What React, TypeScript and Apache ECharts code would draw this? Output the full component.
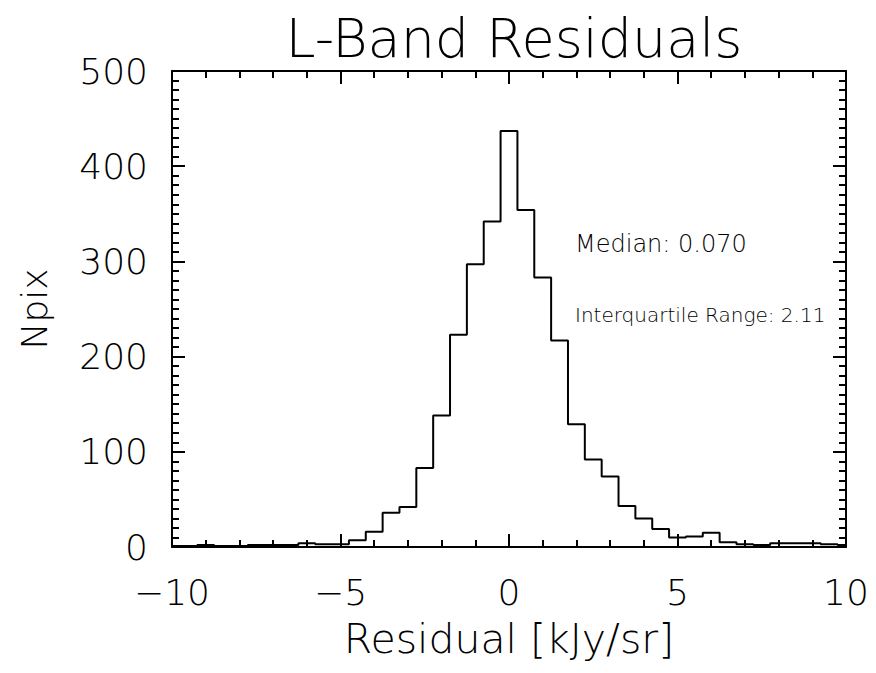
import React, { useEffect, useRef } from "react";
import * as echarts from "echarts";

// Histogram bin centres (bin width 0.5 kJy/sr)
const binCenters = [
  -10, -9.5, -9, -8.5, -8, -7.5, -7, -6.5, -6, -5.5, -5, -4.5, -4, -3.5, -3, -2.5, -2, -1.5, -1, -0.5,
  0, 0.5, 1, 1.5, 2, 2.5, 3, 3.5, 4, 4.5, 5, 5.5, 6, 6.5, 7, 7.5, 8, 8.5, 9, 9.5, 10,
];
// Npix per bin
const counts = [
  1, 1, 2, 1, 1, 2, 2, 2, 4, 3, 3, 7, 16, 36, 42, 83, 138, 223, 297, 342,
  437, 354, 283, 217, 129, 92, 74, 43, 30, 19, 10, 11, 15, 5, 3, 2, 4, 4, 4, 3, 2,
];

const titleText = "L-Band Residuals";
const xName = "Residual [kJy/sr]";
const yName = "Npix";
const annotations = ["Median: 0.070", "Interquartile Range: 2.11"];

const FONT = "DejaVu Sans";
const WEIGHT = 200;

export default function App() {
  const ref = useRef<HTMLDivElement>(null);
  useEffect(() => {
    if (!ref.current) return;
    const chart = echarts.init(ref.current, null, { renderer: "svg" });
    const axisLine = { show: true, onZero: false, lineStyle: { color: "#000", width: 2 } };
    const tick = { show: true, inside: true, length: 13, lineStyle: { color: "#000", width: 2 } };
    const minor = (n: number) => ({
      show: true,
      splitNumber: n,
      length: 7,
      lineStyle: { color: "#000", width: 2 },
    });
    const labelFmt = (v: number) => (v < 0 ? "\u2212" + Math.abs(v) : String(v));
    chart.setOption({
      animation: false,
      backgroundColor: "#fff",
      title: {
        text: titleText,
        left: 509,
        top: 6,
        textAlign: "center",
        textStyle: { fontFamily: FONT, fontWeight: WEIGHT, fontSize: 54, color: "#000" },
      },
      grid: { left: 172, right: 30, top: 71, bottom: 126, containLabel: false },
      xAxis: [
        {
          type: "value",
          position: "bottom",
          min: -10,
          max: 10,
          interval: 5,
          axisLine,
          axisTick: tick,
          minorTick: minor(5),
          splitLine: { show: false },
          axisLabel: {
            margin: 27,
            fontFamily: FONT,
            fontWeight: WEIGHT,
            fontSize: 36,
            color: "#000",
            formatter: labelFmt,
          },
          name: xName,
          nameLocation: "middle",
          nameGap: 71,
          nameTextStyle: { fontFamily: FONT, fontWeight: WEIGHT, fontSize: 41, color: "#000" },
        },
        {
          type: "value",
          position: "top",
          min: -10,
          max: 10,
          interval: 5,
          axisLine,
          axisTick: tick,
          minorTick: minor(5),
          splitLine: { show: false },
          axisLabel: { show: false },
        },
      ],
      yAxis: [
        {
          type: "value",
          position: "left",
          min: 0,
          max: 500,
          interval: 100,
          axisLine,
          axisTick: tick,
          minorTick: minor(10),
          splitLine: { show: false },
          axisLabel: { margin: 24, fontFamily: FONT, fontWeight: WEIGHT, fontSize: 36, color: "#000" },
          name: yName,
          nameLocation: "middle",
          nameGap: 120,
          nameRotate: 90,
          nameTextStyle: { fontFamily: FONT, fontWeight: WEIGHT, fontSize: 36, color: "#000" },
        },
        {
          type: "value",
          position: "right",
          min: 0,
          max: 500,
          interval: 100,
          axisLine,
          axisTick: tick,
          minorTick: minor(10),
          splitLine: { show: false },
          axisLabel: { show: false },
        },
      ],
      series: [
        {
          type: "line",
          step: "middle",
          xAxisIndex: 0,
          yAxisIndex: 0,
          symbol: "none",
          lineStyle: { color: "#000", width: 2 },
          data: binCenters.map((c, i) => [c, counts[i]]),
        },
      ],
      graphic: [
        {
          type: "text",
          x: 575,
          y: 244,
          style: {
            text: annotations[0],
            fontFamily: FONT,
            fontWeight: WEIGHT,
            fontSize: 24,
            fill: "#000",
            textAlign: "left",
            textVerticalAlign: "middle",
          },
        },
        {
          type: "text",
          x: 575,
          y: 315,
          style: {
            text: annotations[1],
            fontFamily: FONT,
            fontWeight: WEIGHT,
            fontSize: 20,
            fill: "#000",
            textAlign: "left",
            textVerticalAlign: "middle",
          },
        },
      ],
    });
    return () => chart.dispose();
  }, []);
  return (
    <div
      ref={ref}
      style={{ position: "fixed", left: 0, top: 0, width: 876, height: 673, background: "#fff" }}
    />
  );
}
